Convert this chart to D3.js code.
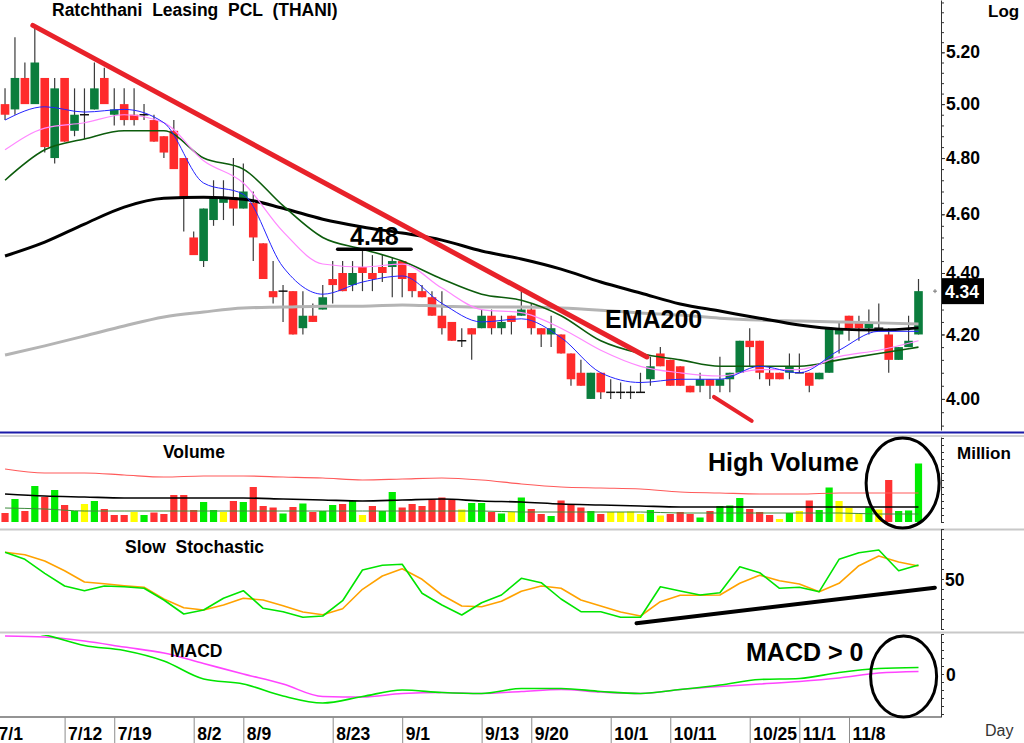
<!DOCTYPE html>
<html>
<head>
<meta charset="utf-8">
<script src="https://cdn.jsdelivr.net/npm/d3@7"></script>
<style>
  body { margin: 0; background: #fff; }
  svg { display: block; }
</style>
</head>
<body>
<div id="chart"></div>
<script>
// trading days shown on the chart (7/1 sits just off the left edge)
var dates = ["7/1","7/2","7/5","7/6","7/7","7/8","7/9","7/12","7/13","7/14","7/15","7/16","7/19","7/20","7/21","7/22","7/23","7/27","7/29","7/30",
  "8/2","8/3","8/4","8/5","8/6","8/9","8/10","8/11","8/13","8/16","8/17","8/18","8/19","8/20","8/23","8/24","8/25","8/26","8/27","8/30","8/31",
  "9/1","9/2","9/3","9/6","9/7","9/8","9/9","9/10","9/13","9/14","9/15","9/16","9/17","9/20","9/21","9/22","9/23","9/27","9/28","9/29","9/30",
  "10/1","10/4","10/5","10/6","10/7","10/8","10/11","10/12","10/14","10/15","10/18","10/19","10/20","10/21","10/25","10/26","10/27","10/28","10/29",
  "11/1","11/2","11/3","11/4","11/5","11/8","11/9","11/10","11/11","11/12","11/15","11/16","11/17"];
var tickDates = ["7/1","7/12","7/19","8/2","8/9","8/23","9/1","9/13","9/20","10/1","10/11","10/25","11/1","11/8"];

var open = [5.00,
  5.00,4.98,5.10,5.00,5.10,4.80,5.10,4.90,4.96,4.98,
  5.10,4.96,5.00,4.96,4.96,4.94,4.88,4.90,4.80,4.52,
  4.44,4.58,4.64,4.66,4.62,4.64,4.50,4.34,4.34,4.34,
  4.22,4.26,4.28,4.38,4.40,4.36,4.42,4.40,4.42,4.42,
  4.44,4.40,4.34,4.32,4.26,4.24,4.18,4.22,4.22,4.26,
  4.22,4.26,4.26,4.28,4.22,4.20,4.20,4.14,4.08,4.00,
  4.08,4.02,4.02,4.02,4.02,4.06,4.14,4.12,4.10,4.04,
  4.04,4.06,4.04,4.06,4.08,4.18,4.18,4.08,4.08,4.08,
  4.08,4.08,4.06,4.08,4.20,4.26,4.24,4.22,4.22,4.20,
  4.12,4.16,4.20];
var high = [5.06,
  5.06,5.26,5.16,5.30,5.10,5.10,5.10,5.06,5.06,5.16,
  5.14,5.06,5.06,5.06,5.00,4.96,4.88,4.94,4.80,4.54,
  4.62,4.72,4.72,4.80,4.78,4.68,4.50,4.44,4.36,4.34,
  4.34,4.30,4.36,4.44,4.44,4.44,4.48,4.46,4.46,4.45,
  4.44,4.40,4.36,4.34,4.34,4.24,4.22,4.22,4.28,4.28,
  4.26,4.26,4.34,4.30,4.22,4.26,4.20,4.14,4.12,4.08,
  4.08,4.06,4.05,4.04,4.08,4.13,4.16,4.12,4.10,4.04,
  4.08,4.06,4.13,4.08,4.18,4.22,4.18,4.10,4.08,4.14,
  4.14,4.08,4.08,4.22,4.24,4.26,4.26,4.28,4.30,4.22,
  4.16,4.26,4.38];
var low = [4.96,
  4.94,4.96,5.00,5.00,4.82,4.78,4.86,4.88,4.87,4.98,
  5.00,4.92,4.92,4.92,4.94,4.86,4.80,4.76,4.54,4.46,
  4.42,4.56,4.58,4.56,4.62,4.44,4.38,4.30,4.24,4.20,
  4.20,4.24,4.28,4.30,4.34,4.34,4.34,4.34,4.37,4.32,
  4.32,4.32,4.32,4.26,4.20,4.18,4.16,4.12,4.22,4.20,
  4.20,4.20,4.26,4.20,4.16,4.16,4.14,4.04,4.04,4.00,
  4.00,4.00,4.00,4.00,4.02,4.04,4.10,4.04,4.04,4.02,
  4.02,4.00,4.02,4.02,4.08,4.10,4.06,4.04,4.06,4.06,
  4.08,4.02,4.06,4.08,4.14,4.18,4.18,4.20,4.22,4.08,
  4.12,4.16,4.20];
var close = [5.02,
  4.96,5.10,5.00,5.16,4.84,5.06,4.86,4.96,4.96,5.06,
  5.00,4.98,4.94,4.94,4.96,4.86,4.82,4.76,4.66,4.46,
  4.62,4.66,4.66,4.62,4.68,4.52,4.38,4.32,4.34,4.20,
  4.26,4.24,4.32,4.36,4.34,4.40,4.40,4.38,4.40,4.44,
  4.38,4.34,4.32,4.26,4.22,4.18,4.18,4.20,4.26,4.22,
  4.24,4.24,4.28,4.22,4.20,4.22,4.14,4.06,4.04,4.08,
  4.02,4.02,4.02,4.02,4.02,4.10,4.10,4.04,4.04,4.02,
  4.06,4.04,4.06,4.08,4.18,4.16,4.08,4.06,4.06,4.10,
  4.08,4.04,4.08,4.22,4.22,4.22,4.22,4.24,4.22,4.12,
  4.16,4.18,4.34];

// volume in million shares, colour code G up / R down / Y unchanged
var volume = [1.5,
  0.9,2.3,1.1,3.6,2.5,3.2,1.7,1.1,1.8,2.1,
  1.3,0.7,0.7,1.0,0.7,0.95,0.8,2.7,2.7,1.2,
  2.0,1.2,1.0,2.1,2.0,3.5,1.6,1.45,0.85,1.5,
  1.85,1.0,1.1,1.7,1.8,2.1,0.7,1.6,1.1,3.0,
  1.45,1.8,1.6,2.25,2.45,2.2,1.25,1.9,1.9,1.0,
  0.85,1.0,2.45,1.3,0.8,0.6,2.15,1.7,1.45,1.1,
  0.8,1.0,1.0,1.05,0.8,1.2,0.65,0.8,1.0,0.8,
  0.45,1.1,1.6,1.65,2.4,1.3,1.0,0.7,0.3,0.9,
  1.1,2.15,1.2,3.45,2.1,1.4,0.8,1.45,1.25,4.2,
  1.1,1.15,5.85];
var volDir = ["G",
  "R","G","R","G","R","G","R","G","Y","G",
  "R","R","R","Y","G","R","R","R","R","R",
  "G","G","Y","R","G","R","R","R","G","R",
  "G","R","G","G","R","G","Y","R","G","G",
  "R","R","R","R","R","R","Y","G","G","R",
  "G","Y","G","R","R","G","R","R","R","G",
  "R","Y","Y","Y","Y","G","Y","R","R","R",
  "G","R","G","G","G","R","R","R","Y","G",
  "Y","R","G","G","Y","Y","Y","G","Y","R",
  "G","G","G"];

// moving averages read every fourth bar
var maIdx = [1,5,9,13,17,21,25,29,33,37,41,45,49,53,57,61,65,69,73,77,81,85,89,93];
var emaBlue = [4.94,4.99,4.97,4.98,4.93,4.71,4.67,4.42,4.33,4.37,4.39,4.30,4.24,4.25,4.19,4.08,4.05,4.06,4.06,4.10,4.08,4.15,4.21,4.21];
var emaPink = [4.83,4.91,4.93,4.96,4.93,4.79,4.71,4.54,4.43,4.42,4.43,4.35,4.28,4.27,4.22,4.15,4.10,4.08,4.07,4.09,4.09,4.13,4.15,4.18];
var emaGreen = [4.72,4.83,4.87,4.90,4.90,4.80,4.76,4.63,4.52,4.48,4.44,4.38,4.33,4.31,4.26,4.18,4.14,4.12,4.10,4.10,4.10,4.12,4.14,4.16];
var emaBlack = [4.457,4.504,4.566,4.625,4.656,4.660,4.653,4.621,4.583,4.556,4.535,4.511,4.474,4.447,4.413,4.370,4.334,4.298,4.275,4.252,4.230,4.217,4.214,4.221];
var ema200 = [4.135,4.164,4.195,4.227,4.256,4.272,4.285,4.288,4.291,4.291,4.295,4.291,4.288,4.288,4.285,4.278,4.269,4.262,4.252,4.246,4.243,4.240,4.237,4.233];

var volAvgRed = [5.3,4.9,4.9,4.7,4.5,4.6,4.6,4.5,4.4,4.2,4.3,4.4,4.2,3.8,3.5,3.4,3.3,3.0,2.9,2.8,2.8,2.9,2.9,2.9];
var volAvgBlack = [2.8,2.6,2.5,2.4,2.4,2.4,2.4,2.3,2.2,2.1,2.2,2.3,2.1,2.0,1.8,1.7,1.6,1.5,1.5,1.5,1.5,1.5,1.5,1.5];
var volAvgGreen = [1.4,1.3,1.1,1.1,1.1,1.1,1.1,1.1,1.1,1.1,1.1,1.1,1.1,1.0,1.0,1.0,1.0,0.9,0.9,0.9,0.9,0.9,0.8,0.8];

var macdLine = [0.088,0.078,0.057,0.047,0.026,-0.010,-0.020,-0.044,-0.058,-0.045,-0.032,-0.037,-0.039,-0.029,-0.029,-0.035,-0.039,-0.031,-0.022,-0.011,-0.009,0.003,0.011,0.013];
var macdSignal = [0.076,0.074,0.066,0.054,0.042,0.021,0.000,-0.020,-0.045,-0.046,-0.039,-0.037,-0.039,-0.035,-0.031,-0.036,-0.039,-0.031,-0.025,-0.020,-0.015,-0.008,0.002,0.005];

// slow stochastic read every second bar
var stIdx = [1,3,5,7,9,11,13,15,17,19,21,23,25,27,29,31,33,35,37,39,41,43,45,47,49,51,53,55,57,59,61,63,65,67,69,71,73,75,77,79,81,83,85,87,89,91,93];
var stochK = [76.7,69.7,55.7,43,38.3,43,42.3,40.7,29,15,19,30.7,38.3,20.7,17.3,11.7,13,28.3,59,63.7,64.7,35.7,24,14,26.3,34,50.7,46.3,30,17.3,17.3,11.7,11.7,42.3,38,34,36.3,62.3,56.3,40.7,41.7,37.3,69.7,76.3,79,58.3,64];
var stochD = [76.7,74.3,68,58.3,47,45.3,43.3,41.7,30,21.3,19,24,30.7,29,23.3,17,14.3,20.3,39.7,53,60.3,49.7,34,23,22.3,27.7,37.7,43,40.7,29,23,17,13,27.3,33.7,33.7,34,45.7,53.7,48.3,45,37.3,45.7,63.3,73,67,63];

var priceTicks = [4.00,4.20,4.40,4.60,4.80,5.00,5.20];
var lastPrice = 4.34;

var W = 1024, H = 743, R = 941;
var font = "'Liberation Sans', Arial, sans-serif";

var svg = d3.select("#chart").append("svg")
  .attr("width", W)
  .attr("height", H)
  .style("font-family", font);

var x = d3.scalePoint().domain(dates).range([-4.9, 918.5]);
var xn = d3.scaleLinear().domain([0, dates.length - 1]).range([-4.9, 918.5]);
var y = d3.scaleLog().domain([3.907, 5.41]).range([430, 0]);
var yv = d3.scaleLinear().domain([0, 8.5]).range([522, 437]);
var ys = d3.scaleLinear().domain([0, 100]).range([629, 529]);
var ym = d3.scaleLinear().domain([-0.086, 0.080]).range([717, 634]);

var defs = svg.append("defs");
function clip(id, y0, y1) {
  defs.append("clipPath").attr("id", id)
    .append("rect").attr("x", 0).attr("y", y0).attr("width", R).attr("height", y1 - y0);
}
clip("cp", 0, 431);
clip("cv", 437, 528);
clip("cs", 531, 631);
clip("cm", 635, 717);

// panel frames
function hline(y0, x0, x1, color, w) {
  svg.append("line").attr("x1", x0).attr("x2", x1).attr("y1", y0).attr("y2", y0)
    .attr("stroke", color).attr("stroke-width", w);
}
hline(432.5, 0, W, "#1b1ba8", 2);
hline(436, 0, W, "#c4c4c4", 1.5);
hline(529.5, 0, W, "#c8c8c8", 2);
hline(632.5, 0, W, "#c8c8c8", 2);
hline(717, 0, R, "#707070", 1.5);

// candles
var idx = d3.range(dates.length);
var gp = svg.append("g").attr("clip-path", "url(#cp)");
gp.selectAll(".wick")
  .data(idx)
  .join("line")
    .attr("class", "wick")
    .attr("x1", i => x(dates[i]))
    .attr("x2", i => x(dates[i]))
    .attr("y1", i => y(high[i]))
    .attr("y2", i => y(low[i]))
    .attr("stroke", "#3a3a3a")
    .attr("stroke-width", 1.2);
gp.selectAll(".body")
  .data(idx.filter(i => open[i] !== close[i]))
  .join("rect")
    .attr("class", "body")
    .attr("x", i => x(dates[i]) - 4.3)
    .attr("width", 8.6)
    .attr("y", i => y(Math.max(open[i], close[i])))
    .attr("height", i => Math.max(1.5, y(Math.min(open[i], close[i])) - y(Math.max(open[i], close[i]))))
    .attr("fill", i => close[i] > open[i] ? "#0b7d3d" : "#ff2b2b");
gp.selectAll(".doji")
  .data(idx.filter(i => open[i] === close[i]))
  .join("line")
    .attr("class", "doji")
    .attr("x1", i => x(dates[i]) - 4.5)
    .attr("x2", i => x(dates[i]) + 4.5)
    .attr("y1", i => y(close[i]))
    .attr("y2", i => y(close[i]))
    .attr("stroke", "#111")
    .attr("stroke-width", 1.5);

function series(g, xs, vals, ysc, color, w, curve) {
  g.append("path")
    .datum(vals)
    .attr("fill", "none")
    .attr("stroke", color)
    .attr("stroke-width", w)
    .attr("stroke-linejoin", "round")
    .attr("d", d3.line()
      .x((d, j) => x(dates[xs[j]]))
      .y(d => ysc(d))
      .curve(curve || d3.curveMonotoneX));
}
series(gp, maIdx, ema200, y, "#b4b4b4", 3);
series(gp, maIdx, emaBlack, y, "#000", 3);
series(gp, maIdx, emaGreen, y, "#0c5c0c", 1.6);
series(gp, maIdx, emaPink, y, "#ff88ff", 1.2);
series(gp, maIdx, emaBlue, y, "#2424ff", 1);

// trend lines
function seg(g, i0, v0, i1, v1, ysc, color, w) {
  g.append("line")
    .attr("x1", xn(i0)).attr("y1", ysc(v0))
    .attr("x2", xn(i1)).attr("y2", ysc(v1))
    .attr("stroke", color).attr("stroke-width", w).attr("stroke-linecap", "round");
}
seg(gp, 3.8, 5.307, 65.65, 4.129, y, "#e8222a", 5);
seg(gp, 72.4, 4.006, 76.2, 3.934, y, "#e8222a", 4);
seg(gp, 34.5, 4.48, 41.9, 4.48, y, "#000", 3.5);

svg.append("text")
  .attr("x", xn(38.2)).attr("y", y(4.48) - 4)
  .attr("text-anchor", "middle")
  .attr("font-size", 25).attr("font-weight", "bold")
  .text("4.48");
svg.append("text")
  .attr("x", 605).attr("y", 328)
  .attr("font-size", 25).attr("font-weight", "bold")
  .text("EMA200");

// price axis
var pa = svg.append("g").attr("transform", "translate(" + R + ",0)");
pa.call(d3.axisRight(y).tickValues(d3.range(3.92, 5.41, 0.04)).tickFormat("").tickSize(3).tickSizeOuter(0));
pa.append("g")
  .call(d3.axisRight(y).tickValues(priceTicks).tickFormat(d3.format(".2f")).tickSize(4).tickSizeOuter(0))
  .call(g => g.select(".domain").remove())
  .call(g => g.selectAll("text").attr("x", 5).attr("font-size", 17.5).attr("font-weight", "bold").attr("font-family", font).attr("fill", "#000"));
pa.selectAll("line, path").attr("stroke", "#333");

svg.append("rect")
  .attr("x", R + 1).attr("y", y(lastPrice) - 13)
  .attr("width", 42).attr("height", 26)
  .attr("fill", "#000");
svg.append("text")
  .attr("x", R + 4).attr("y", y(lastPrice) + 6.5)
  .attr("font-size", 17.5).attr("font-weight", "bold").attr("fill", "#fff")
  .text("4.34");
svg.append("path")
  .attr("d", "M" + (R - 8) + "," + y(lastPrice) + "h4M" + (R - 6) + "," + (y(lastPrice) - 2) + "v4")
  .attr("stroke", "#777").attr("stroke-width", 1);

svg.append("text")
  .attr("x", 52).attr("y", 16)
  .attr("font-size", 17.5).attr("font-weight", "bold")
  .style("white-space", "pre")
  .text("Ratchthani  Leasing  PCL  (THANI)");
svg.append("text")
  .attr("x", 988).attr("y", 17)
  .attr("font-size", 17).attr("font-weight", "bold")
  .text("Log");

// volume
var gv = svg.append("g").attr("clip-path", "url(#cv)");
var volColor = { G: "#00ec00", R: "#ff3232", Y: "#ffff00" };
gv.selectAll(".vbar")
  .data(idx)
  .join("rect")
    .attr("class", "vbar")
    .attr("x", i => x(dates[i]) - 3.6)
    .attr("width", 7.2)
    .attr("y", i => yv(volume[i]))
    .attr("height", i => yv(0) - yv(volume[i]))
    .attr("fill", i => volColor[volDir[i]]);
series(gv, maIdx, volAvgRed, yv, "#ff5a5a", 1.2);
series(gv, maIdx, volAvgBlack, yv, "#000", 1.6);
series(gv, maIdx, volAvgGreen, yv, "#3c8c3c", 1);

svg.append("g").attr("transform", "translate(" + R + ",0)")
  .call(d3.axisRight(yv).tickValues(d3.range(0, 9, 0.7)).tickFormat("").tickSize(3).tickSizeOuter(0))
  .call(g => g.selectAll("line, path").attr("stroke", "#333"));

svg.append("text").attr("x", 163).attr("y", 458)
  .attr("font-size", 17.5).attr("font-weight", "bold").text("Volume");
svg.append("text").attr("x", 957).attr("y", 459)
  .attr("font-size", 17).attr("font-weight", "bold").text("Million");
svg.append("text").attr("x", 708).attr("y", 471)
  .attr("font-size", 25).attr("font-weight", "bold").text("High Volume");
svg.append("ellipse")
  .attr("cx", xn(91.4)).attr("cy", 483).attr("rx", 36.5).attr("ry", 45)
  .attr("fill", "none").attr("stroke", "#000").attr("stroke-width", 3);

// slow stochastic
var gs = svg.append("g").attr("clip-path", "url(#cs)");
series(gs, stIdx, stochD, ys, "#ffa200", 1.6, d3.curveLinear);
series(gs, stIdx, stochK, ys, "#00e400", 1.6, d3.curveLinear);
seg(gs, 64.6, 5.7, 94.65, 41.3, ys, "#000", 4);

svg.append("g").attr("transform", "translate(" + R + ",0)")
  .call(d3.axisRight(ys).tickValues(d3.range(0, 101, 10)).tickFormat("").tickSize(3).tickSizeOuter(0))
  .call(g => g.selectAll("line, path").attr("stroke", "#333"));
svg.append("text").attr("x", R + 4).attr("y", ys(50) + 6.5)
  .attr("font-size", 17.5).attr("font-weight", "bold").text("50");
svg.append("text").attr("x", 125).attr("y", 553)
  .attr("font-size", 17.5).attr("font-weight", "bold")
  .style("white-space", "pre")
  .text("Slow  Stochastic");

// MACD
var gm = svg.append("g").attr("clip-path", "url(#cm)");
series(gm, maIdx, macdSignal, ym, "#ff44ff", 1.6);
series(gm, maIdx, macdLine, ym, "#00e400", 1.6);

svg.append("g").attr("transform", "translate(" + R + ",0)")
  .call(d3.axisRight(ym).tickValues(d3.range(-0.08, 0.081, 0.016)).tickFormat("").tickSize(3).tickSizeOuter(0))
  .call(g => g.selectAll("line, path").attr("stroke", "#333"));
svg.append("text").attr("x", R + 5).attr("y", ym(0) + 6.5)
  .attr("font-size", 17.5).attr("font-weight", "bold").text("0");
svg.append("text").attr("x", 170).attr("y", 657)
  .attr("font-size", 17.5).attr("font-weight", "bold").text("MACD");
svg.append("text").attr("x", 746).attr("y", 661)
  .attr("font-size", 25).attr("font-weight", "bold").text("MACD > 0");
svg.append("ellipse")
  .attr("cx", xn(91.5)).attr("cy", 676.5).attr("rx", 33).attr("ry", 40.5)
  .attr("fill", "none").attr("stroke", "#000").attr("stroke-width", 3);

// date axis
svg.append("g")
  .attr("transform", "translate(0,717)")
  .call(d3.axisBottom(x).tickValues(tickDates).tickSize(26).tickSizeOuter(0))
  .call(g => g.select(".domain").remove())
  .call(g => g.selectAll("line").attr("stroke", "#8c8c8c"))
  .call(g => g.selectAll("text")
    .attr("text-anchor", "start").attr("x", 3).attr("y", 23).attr("dy", 0)
    .attr("font-size", 17.5).attr("font-weight", "bold").attr("font-family", font).attr("fill", "#000"));
svg.append("text").attr("x", 985).attr("y", 736)
  .attr("font-size", 16).attr("fill", "#333").text("Day");
</script>
</body>
</html>
